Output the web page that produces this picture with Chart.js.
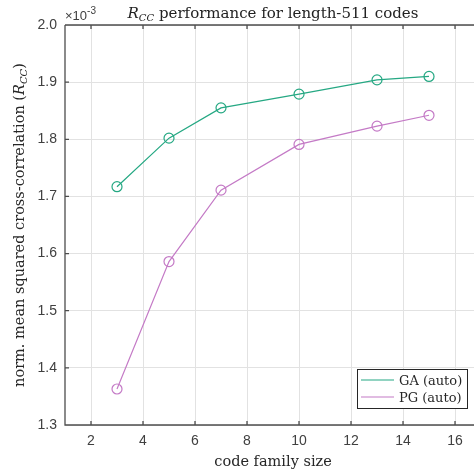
<!DOCTYPE html>
<html>
<head>
<meta charset="utf-8">
<script src="https://cdn.jsdelivr.net/npm/chart.js@4/dist/chart.umd.min.js"></script>
<style>
  html, body { margin: 0; padding: 0; background: #fff; }
  canvas { display: block; }
</style>
</head>
<body>
<canvas id="rccChart" width="474" height="474"></canvas>
<script>
// code family sizes and R_CC values (x 10^-3)
const familySizes = [3, 5, 7, 10, 13, 15];
const gaValues = [1.717, 1.802, 1.855, 1.879, 1.904, 1.910];
const pgValues = [1.363, 1.586, 1.711, 1.791, 1.823, 1.842];
const xTicks = [2, 4, 6, 8, 10, 12, 14, 16];
const yTicks = [1.3, 1.4, 1.5, 1.6, 1.7, 1.8, 1.9, 2];
const seriesNames = ["GA (auto)", "PG (auto)"];

const GA_COLOR = "#25a883";
const PG_COLOR = "#c47ac6";
const SERIF = "'DejaVu Serif', 'Liberation Serif', serif";
const SANS = "'Liberation Sans', Arial, sans-serif";

// draw a run of text pieces, some italic / subscripted
function drawRich(ctx, parts, x, y, align) {
    let total = 0;
    parts.forEach(p => {
        ctx.font = (p.italic ? "italic " : "") + p.size + "px " + (p.family || SERIF);
        p.w = ctx.measureText(p.text).width;
        total += p.w;
    });
    let cx = align === "center" ? x - total / 2 : x;
    ctx.textAlign = "left";
    ctx.textBaseline = "alphabetic";
    parts.forEach(p => {
        ctx.font = (p.italic ? "italic " : "") + p.size + "px " + (p.family || SERIF);
        ctx.fillText(p.text, cx, y + (p.dy || 0));
        cx += p.w;
    });
}

const decorations = {
    id: "decorations",
    afterDraw(chart) {
        const ctx = chart.ctx;
        const area = chart.chartArea;
        const xs = chart.scales.x, ys = chart.scales.y;
        ctx.save();

        // axes box with inward ticks
        ctx.strokeStyle = "#4d4d4d";
        ctx.lineWidth = 1.3;
        ctx.beginPath();
        ctx.moveTo(area.left, area.top);
        ctx.lineTo(area.right, area.top);
        ctx.moveTo(area.left, area.top);
        ctx.lineTo(area.left, area.bottom);
        ctx.lineTo(area.right, area.bottom);
        xTicks.forEach(v => {
            const px = xs.getPixelForValue(v);
            ctx.moveTo(px, area.bottom); ctx.lineTo(px, area.bottom - 4);
            ctx.moveTo(px, area.top); ctx.lineTo(px, area.top + 4);
        });
        yTicks.forEach(v => {
            const py = ys.getPixelForValue(v);
            ctx.moveTo(area.left, py); ctx.lineTo(area.left + 4, py);
        });
        ctx.stroke();

        // title, centred over the full axes (which run on to x = 17)
        ctx.fillStyle = "#222";
        const midX = (area.left + xs.getPixelForValue(17)) / 2;
        drawRich(ctx, [
            { text: "R", italic: true, size: 15 },
            { text: "CC", italic: true, size: 10, dy: 3 },
            { text: " performance for length-511 codes", size: 15 }
        ], midX, 18, "center");

        // exponent label
        ctx.fillStyle = "#404040";
        drawRich(ctx, [
            { text: "\u00d710", size: 13, family: SANS },
            { text: "-3", size: 10, family: SANS, dy: -6 }
        ], area.left, 20, "left");

        // x axis title
        ctx.fillStyle = "#262626";
        drawRich(ctx, [{ text: "code family size", size: 14.5 }], midX, 466, "center");

        // y axis title
        ctx.save();
        ctx.translate(24, (area.top + area.bottom) / 2);
        ctx.rotate(-Math.PI / 2);
        drawRich(ctx, [
            { text: "norm. mean squared cross-correlation (", size: 14.5 },
            { text: "R", italic: true, size: 14.5 },
            { text: "CC", italic: true, size: 10, dy: 3 },
            { text: ")", size: 14.5 }
        ], 0, 0, "center");
        ctx.restore();

        // legend
        const lx = 357, ly = 369, lw = 110, lh = 39;
        ctx.fillStyle = "#fff";
        ctx.fillRect(lx, ly, lw, lh);
        ctx.strokeStyle = "#262626";
        ctx.lineWidth = 1;
        ctx.strokeRect(lx + 0.5, ly + 0.5, lw, lh);
        chart.data.datasets.forEach((ds, i) => {
            const rowY = ly + 11 + i * 17;
            ctx.strokeStyle = ds.borderColor;
            ctx.lineWidth = 1.2;
            ctx.beginPath();
            ctx.moveTo(lx + 4, rowY);
            ctx.lineTo(lx + 37, rowY);
            ctx.stroke();
            ctx.fillStyle = "#262626";
            drawRich(ctx, [{ text: ds.label, size: 13 }], lx + 42, rowY + 5, "left");
        });

        ctx.restore();
    }
};

function makeSeries(label, values, color) {
    return {
        label: label,
        data: familySizes.map((x, i) => ({ x: x, y: values[i] })),
        borderColor: color,
        borderWidth: 1.2,
        pointRadius: 5,
        pointHoverRadius: 5,
        pointBorderWidth: 1.2,
        pointBorderColor: color,
        pointBackgroundColor: "rgba(0,0,0,0)",
        tension: 0
    };
}

new Chart(document.getElementById("rccChart"), {
    type: "line",
    data: {
        datasets: [
            makeSeries(seriesNames[0], gaValues, GA_COLOR),
            makeSeries(seriesNames[1], pgValues, PG_COLOR)
        ]
    },
    options: {
        responsive: false,
        animation: false,
        layout: { autoPadding: false, padding: { top: 25, right: 0, left: 0, bottom: 0 } },
        plugins: {
            legend: { display: false },
            title: { display: false },
            tooltip: { enabled: false }
        },
        scales: {
            x: {
                type: "linear",
                min: 1,
                max: 16.73,
                afterBuildTicks: s => { s.ticks = xTicks.map(v => ({ value: v })); },
                afterFit: s => { s.height = 49; s.paddingLeft = 0; s.paddingRight = 0; },
                grid: { color: "#e2e2e2", drawTicks: false },
                border: { display: false },
                ticks: { color: "#404040", font: { family: SANS, size: 14 }, padding: 8, maxRotation: 0 }
            },
            y: {
                type: "linear",
                min: 1.3,
                max: 2,
                afterBuildTicks: s => { s.ticks = yTicks.map(v => ({ value: v })); },
                afterFit: s => { s.width = 65; s.paddingTop = 0; s.paddingBottom = 0; },
                grid: { color: "#e2e2e2", drawTicks: false },
                border: { display: false },
                ticks: { color: "#404040", font: { family: SANS, size: 14 }, padding: 8 }
            }
        }
    },
    plugins: [decorations]
});
</script>
</body>
</html>
